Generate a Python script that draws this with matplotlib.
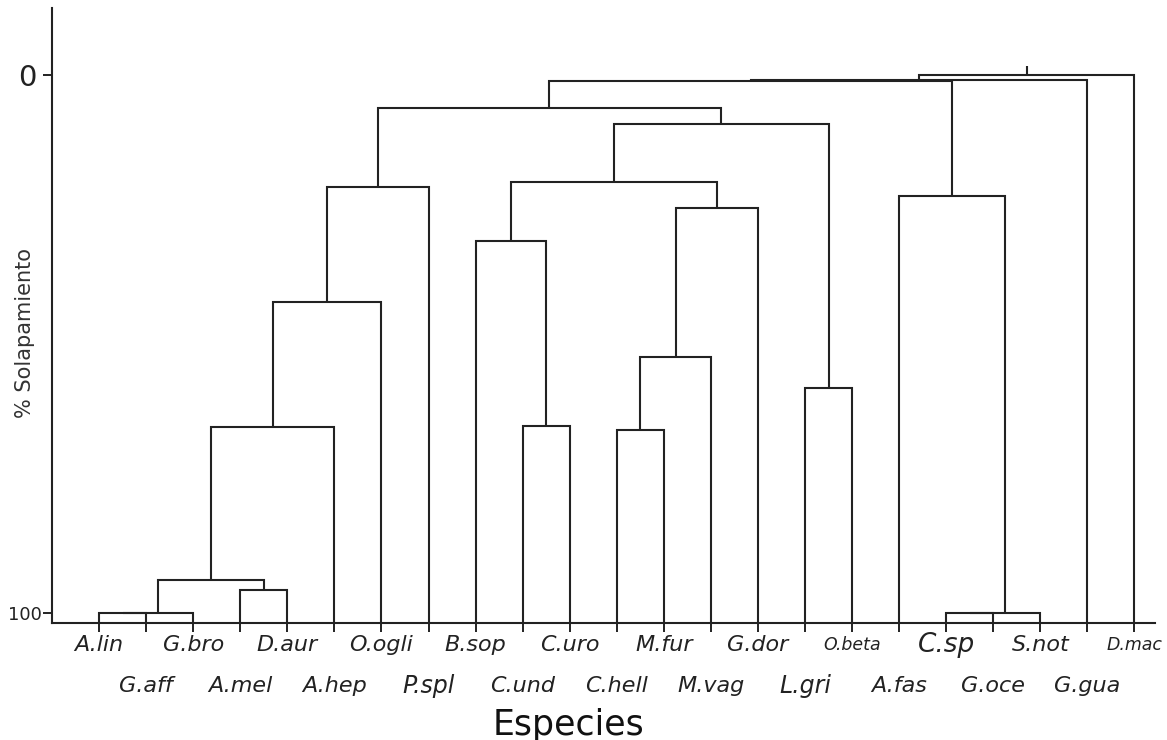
import matplotlib
matplotlib.use("Agg")
import matplotlib.pyplot as plt
from matplotlib.transforms import blended_transform_factory

# Species (leaf order along the x axis)
species = ["A.lin", "G.aff", "G.bro", "A.mel", "D.aur", "A.hep", "O.ogli",
           "P.spl", "B.sop", "C.und", "C.uro", "C.hell", "M.fur", "M.vag",
           "G.dor", "L.gri", "O.beta", "A.fas", "C.sp", "G.oce", "S.not",
           "G.gua", "D.mac"]

# Linkage: node ids 0..22 are species, each merge creates id 23, 24, ...
merge_left = [0, 23, 3, 24, 26, 27, 28, 9, 8, 11, 32, 33, 31, 15, 35, 29,
              18, 39, 17, 38, 42, 43]
merge_right = [1, 2, 4, 25, 5, 6, 7, 10, 30, 12, 13, 14, 34, 16, 36, 37,
               19, 20, 40, 41, 21, 22]
merge_overlap = [100.0, 100.0, 95.7, 93.9, 65.4, 42.2, 20.8, 65.3, 30.8,
                 66.0, 52.4, 24.8, 19.9, 58.2, 9.2, 6.1, 100.0, 100.0, 22.5,
                 1.1, 0.9, 0.0]

y_ticks = [0, 100]
y_tick_labels = ["0", "100"]

# Per-label font sizes of the species names
label_sizes = {"C.sp": 19, "O.beta": 12.5, "D.mac": 12.5, "P.spl": 17,
               "L.gri": 17}

fig = plt.figure(figsize=(11.67, 7.40), dpi=100)
ax = fig.add_axes([0.0446, 0.1577, 0.9452, 0.8315])

ax.set_xlim(-1.0, 22.44)
ax.set_ylim(101.9, -12.4)
base = ax.get_ylim()[0]

line_kw = dict(color="#222222", lw=1.5, solid_capstyle="butt",
               solid_joinstyle="miter")

n = len(species)
xpos = {i: float(i) for i in range(n)}
ypos = {i: base for i in range(n)}
for k, (a, b, h) in enumerate(zip(merge_left, merge_right, merge_overlap)):
    node = n + k
    xa, xb = xpos[a], xpos[b]
    ax.plot([xa, xa, xb, xb], [ypos[a], h, h, ypos[b]], **line_kw)
    xpos[node] = (xa + xb) / 2.0
    ypos[node] = h

# stub above the root
root = n + len(merge_overlap) - 1
ax.plot([xpos[root], xpos[root]], [ypos[root], -1.7], **line_kw)

for s in ["top", "right"]:
    ax.spines[s].set_visible(False)
for s in ["left", "bottom"]:
    ax.spines[s].set_linewidth(1.5)
    ax.spines[s].set_color("#222222")

ax.set_xticks(range(n))
ax.set_xticklabels([""] * n)
ax.tick_params(axis="x", length=6.5, width=1.4, color="#222222")
ax.set_yticks(y_ticks)
ax.set_yticklabels(y_tick_labels)
ax.tick_params(axis="y", length=6.5, width=1.4, color="#222222", pad=1)
tl = ax.get_yticklabels()
tl[0].set_fontsize(21)
tl[1].set_fontsize(13)
tl[0].set_color("#222222")
tl[1].set_color("#222222")
ax.yaxis.get_major_ticks()[0].set_pad(5)

trans = blended_transform_factory(ax.transData, fig.transFigure)
for i, name in enumerate(species):
    yc = 0.1284 if i % 2 == 0 else 0.0730
    ax.text(i, yc, name, transform=trans, ha="center", va="center",
            fontsize=label_sizes.get(name, 16), fontstyle="italic",
            color="#222222")

fig.text(568 / 1167, 1 - 725 / 740, "Especies", ha="center", va="center",
         fontsize=25, color="#111111")
fig.text(25 / 1167, 1 - 333 / 740, "% Solapamiento", ha="center",
         va="center", rotation=90, fontsize=15, color="#333333")

fig.savefig("out.png", dpi=100)
